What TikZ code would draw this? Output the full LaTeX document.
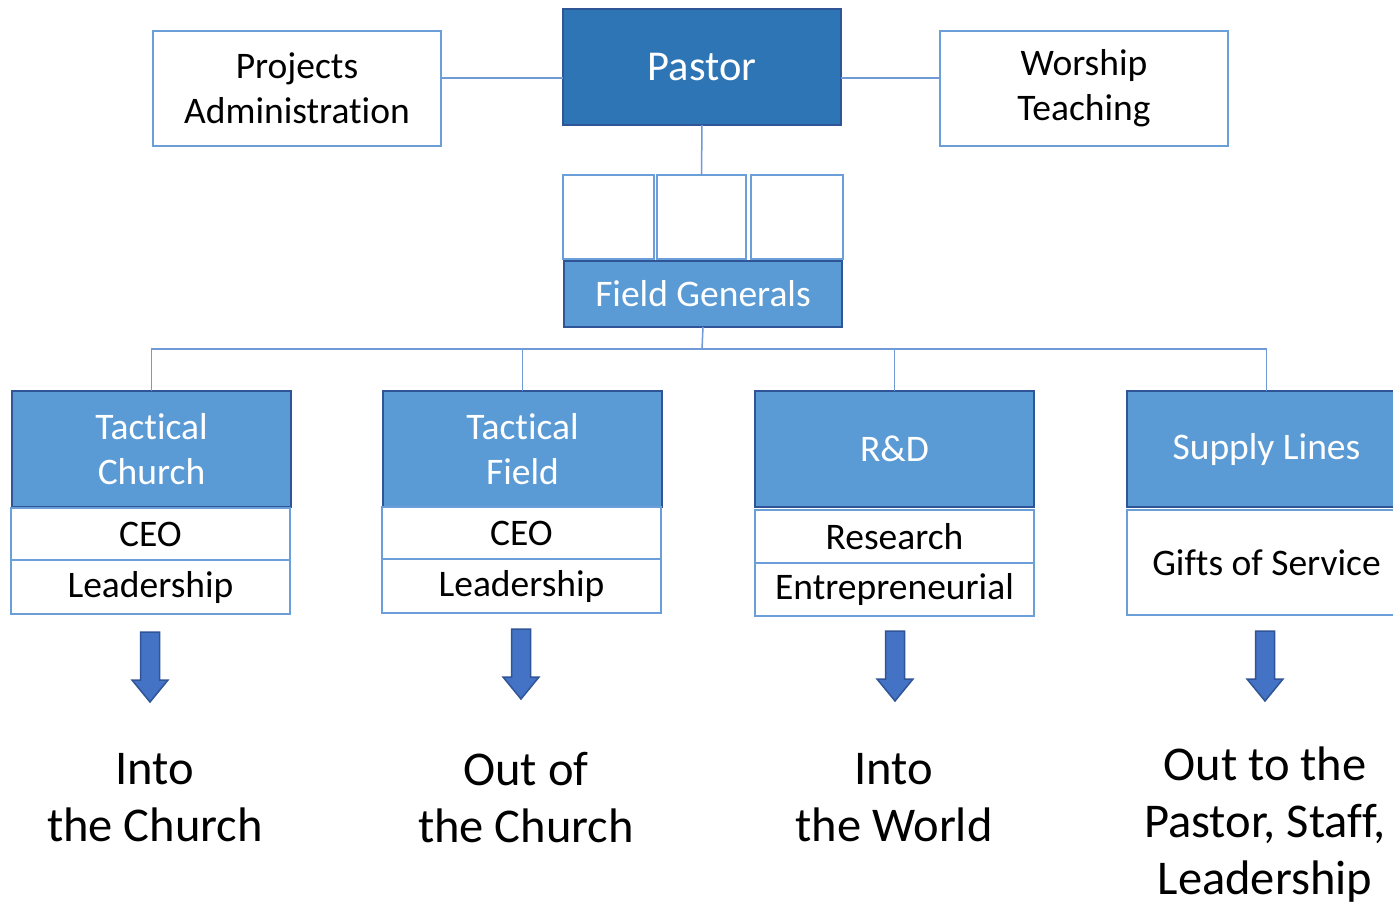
\documentclass[tikz,border=0pt]{standalone}
\usepackage{fontspec}
\setmainfont{Carlito}[Ligatures=NoCommon]
\definecolor{pastorblue}{HTML}{2E75B6}
\definecolor{tacblue}{HTML}{5B9BD5}
\definecolor{edgeblue}{HTML}{2F5597}
\definecolor{paleedge}{HTML}{6A9FDA}
\definecolor{linkblue}{HTML}{6F9AD6}
\definecolor{arrowblue}{HTML}{4472C4}
\tikzset{
	darkbox/.style={draw=edgeblue, fill=pastorblue, line width=2.5pt, text=white, align=center,
		inner sep=0pt, outer sep=0pt, font=\fontsize{42.5}{50}\selectfont},
	tacbox/.style={draw=edgeblue, fill=tacblue, line width=2.5pt, text=white, align=center,
		inner sep=0pt, outer sep=0pt, minimum width=279, minimum height=116, font=\fontsize{37.5}{45}\selectfont},
	whitebox/.style={draw=paleedge, fill=white, line width=2pt, align=center,
		inner sep=0pt, outer sep=0pt, font=\fontsize{37.5}{45}\selectfont},
	link/.style={draw=linkblue, line width=1.5pt},
	result/.style={align=center, font=\fontsize{48.5}{57}\selectfont}
}
\begin{document}
\begin{tikzpicture}[x=1pt, y=-1pt]
	\path[use as bounding box, clip] (0,0) rectangle (1393,906);

	% top row
	\node[darkbox, minimum width=278, minimum height=116] (pastor) at (702,67) {Pastor};
	\node[whitebox, minimum width=288, minimum height=115] (projects) at (297,88.5) {Projects\\Administration};
	\node[whitebox, minimum width=288, minimum height=115] (worship) at (1084,88.5) {Worship\\Teaching};
	\draw[link] (projects.east |- 0,78) -- (pastor.west |- 0,78);
	\draw[link] (pastor.east |- 0,78) -- (worship.west |- 0,78);

	% field generals
	\node[whitebox, minimum width=91, minimum height=84] (gen1) at (608.5,217) {};
	\node[whitebox, minimum width=89, minimum height=84] (gen2) at (701.5,217) {};
	\node[whitebox, minimum width=92, minimum height=84] (gen3) at (797,217) {};
	\node[tacbox, minimum width=278, minimum height=66] (generals) at (703,294) {Field Generals};
	\draw[link] (pastor.south) -- (gen2.north);

	% four divisions
	\node[tacbox] (church) at (151.5,449) {Tactical\\Church};
	\node[tacbox] (field) at (522.5,449) {Tactical\\Field};
	\node[tacbox] (rnd) at (894.5,449) {R\&D};
	\node[tacbox] (supply) at (1266.5,449) {Supply Lines};

	\coordinate (bus) at (702,349);
	\draw[link] (generals.south) -- (bus);
	\draw[link] (church.north) |- (bus) -| (supply.north);
	\draw[link] (field.north) -- (field.north |- bus);
	\draw[link] (rnd.north) -- (rnd.north |- bus);

	\node[whitebox, minimum width=279, minimum height=52] (ceoA) at (150.5,534) {CEO};
	\node[whitebox, minimum width=279, minimum height=54] (leadA) at (150.5,587) {Leadership};
	\node[whitebox, minimum width=279, minimum height=52] (ceoB) at (521.5,533) {CEO};
	\node[whitebox, minimum width=279, minimum height=54] (leadB) at (521.5,586) {Leadership};
	\node[whitebox, minimum width=279, minimum height=53] (research) at (894.5,536.5) {Research};
	\node[whitebox, minimum width=279, minimum height=53] (entre) at (894.5,589.5) {Entrepreneurial};
	\node[whitebox, minimum width=279, minimum height=105] (gifts) at (1266.5,562.5) {Gifts of Service};

	% block arrows
	\foreach \cx/\ytop in {150/632, 521/629, 895/631, 1265/631}
		\draw[draw=edgeblue, fill=arrowblue, line width=1.5pt, line join=miter]
			(\cx-9.5,\ytop) -- (\cx+9.5,\ytop) -- (\cx+9.5,\ytop+48) -- (\cx+18,\ytop+48)
			-- (\cx,\ytop+70) -- (\cx-18,\ytop+48) -- (\cx-9.5,\ytop+48) -- cycle;

	% outcomes
	\node[result] (intoA) at (155,798) {Into\\the Church};
	\node[result] (outB) at (526,798) {Out of\\the Church};
	\node[result] (intoC) at (894,798) {Into\\the World};
	\node[result] (outD) at (1265,825) {Out to the\\Pastor, Staff,\\Leadership};
\end{tikzpicture}
\end{document}
